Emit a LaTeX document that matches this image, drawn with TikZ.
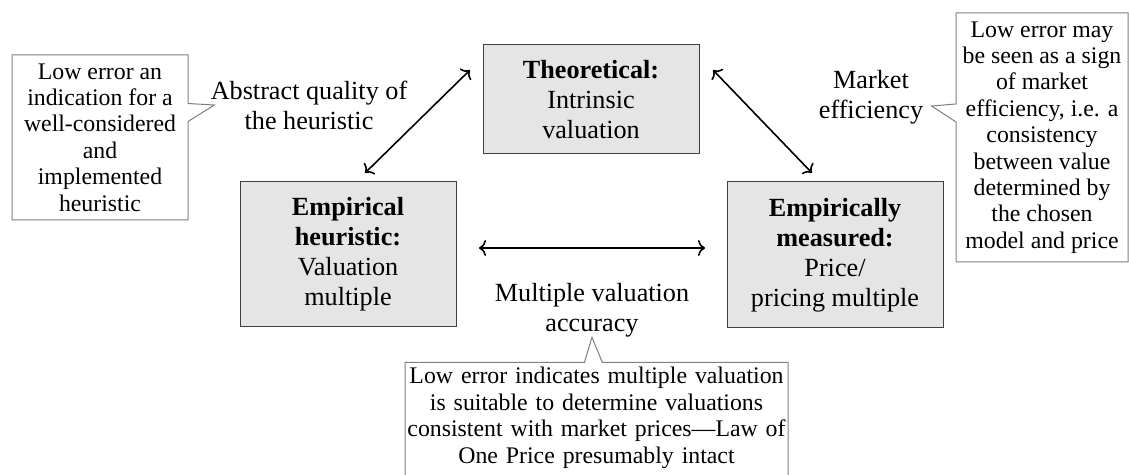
\documentclass[tikz,border=0pt]{standalone}
\usepackage{fontspec}
\setmainfont{Liberation Serif}
\usetikzlibrary{shapes.callouts,arrows.meta}

\begin{document}
\begin{tikzpicture}[x=0.5pt,y=-0.5pt,
  stage/.style={draw=black!75, line width=0.5pt, fill=black!10,
    minimum width=108pt, inner sep=0pt, outer sep=0pt, align=center,
    font=\fontsize{13.1}{15}\selectfont},
  edgelabel/.style={inner sep=0pt, align=center,
    font=\fontsize{13.1}{15}\selectfont},
  note/.style={rectangle callout, draw=black!50, line width=0.5pt,
    fill=white, inner sep=0pt, align=center, callout pointer width=9pt,
    font=\fontsize{11.9}{13.2}\selectfont},
  link/.style={line width=0.8pt,
    {To[length=3.5pt,width=8pt]}-{To[length=3.5pt,width=8pt]}}
]
\clip (0,0) rectangle (1129,475);

% the three valuation levels
\node[stage, minimum height=54.5pt] (theo) at (591,99.5)
  {\textbf{Theoretical:}\\Intrinsic\\valuation};
\node[stage, minimum height=72.5pt] (emp) at (348,254.5)
  {\textbf{Empirical}\\\textbf{heuristic:}\\Valuation\\multiple};
\node[stage, minimum height=73pt] (meas) at (835,255)
  {\textbf{Empirically}\\\textbf{measured:}\\Price/\\pricing multiple};

% relations between the levels
\draw[link] ([shift={(17,-9)}]emp.north) -- ([shift={(-13,25)}]theo.north west);
\draw[link] ([shift={(14,25)}]theo.north east) -- ([shift={(-23,-9)}]meas.north);
\draw[link] ([shift={(23,-6.5)}]emp.east) -- ([shift={(-22,-7)}]meas.west);

% relation labels
\node[edgelabel] (absq) at (309,105) {Abstract quality of\\the heuristic};
\node[edgelabel] (mkt) at (871,97) {Market\\efficiency};
\node[edgelabel] (mva) at (592,310) {Multiple valuation\\accuracy};

% interpretation notes
\node[note, minimum width=88pt, minimum height=82.5pt,
  callout absolute pointer={([xshift=2pt]absq.west)}] (noteL) at (100,137.5)
  {Low error an\\indication for a\\well-considered\\and\\implemented\\heuristic};
\node[note, minimum width=86pt, minimum height=124.5pt,
  callout absolute pointer={([xshift=4pt,yshift=-4.5pt]mkt.east)}] (noteR) at (1042,137.5)
  {Low error may\\be seen as a sign\\of market\\efficiency, i.e. a\\consistency\\between value\\determined by\\the chosen\\model and price};
\node[note, anchor=north, text width=191.5pt, text height=10.75pt, text depth=47.25pt,
  callout absolute pointer={(mva.south)}] (noteB) at (596.5,362)
  {Low error indicates multiple valuation\\is suitable to determine valuations\\consistent with market prices---Law of\\One Price presumably intact};
\end{tikzpicture}
\end{document}
